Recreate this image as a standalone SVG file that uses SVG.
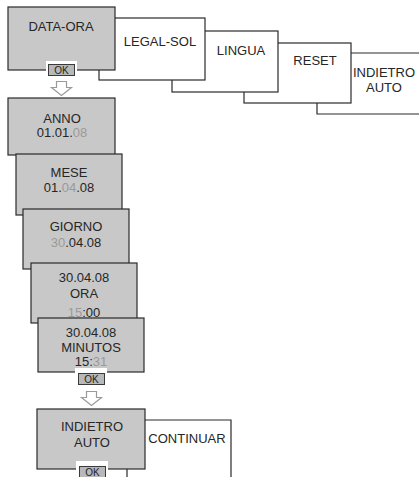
<svg xmlns="http://www.w3.org/2000/svg" width="419" height="477" viewBox="0 0 419 477">
<style>
.bg{fill:#ffffff}
.w{fill:#ffffff;stroke:#2a2a2a;stroke-width:1.2}
.g{fill:#c8c8c8;stroke:#2a2a2a;stroke-width:1.2}
.t{font-family:"Liberation Sans",Arial,sans-serif;font-size:13px;fill:#262626;text-anchor:middle}
.h{fill:#9a9a9a}
.okw{fill:#ffffff}
.ok{fill:#b8b8b8;stroke:#3a3a3a;stroke-width:1}
.okt{font-family:"Liberation Sans",Arial,sans-serif;font-size:10px;fill:#222;text-anchor:middle}
.arr{fill:#ffffff;stroke:#9a9a9a;stroke-width:1.2;stroke-linejoin:miter}
</style>
<rect class="bg" x="0" y="0" width="419" height="477"/>
<g id="menu-indietro-auto">
<path class="w" d="M419,53 H317 V114 H419"/>
<text class="t" x="384" y="77">INDIETRO</text>
<text class="t" x="384" y="92">AUTO</text>
</g>
<g id="menu-reset">
<rect class="w" x="244" y="43" width="107" height="60"/>
<text class="t" x="315" y="65">RESET</text>
</g>
<g id="menu-lingua">
<rect class="w" x="172" y="31" width="106" height="61"/>
<text class="t" x="241" y="55">LINGUA</text>
</g>
<g id="menu-legal-sol">
<rect class="w" x="99" y="18" width="106" height="62"/>
<text class="t" x="160" y="46">LEGAL-SOL</text>
</g>
<g id="data-ora">
<rect class="g" x="8" y="7" width="107" height="63"/>
<text class="t" x="61" y="31">DATA-ORA</text>
<rect class="okw" x="46" y="61" width="31" height="17"/>
<rect class="ok" x="48.5" y="64.5" width="26" height="11"/>
<text class="okt" x="61.5" y="73.8">OK</text>
</g>
<g id="connectors">
<path class="arr" d="M56.5,81.5 H66.5 V87.5 H71.5 L61.5,95.5 L51.5,87.5 H56.5 Z"/>
<path class="arr" d="M86.5,391.5 H96.5 V397.5 H101.5 L91.5,405.5 L81.5,397.5 H86.5 Z"/>
</g>
<g id="anno">
<rect class="g" x="8" y="98" width="107" height="57"/>
<text class="t" x="62" y="123">ANNO</text>
<text class="t" x="62" y="137">01.01.<tspan class="h">08</tspan></text>
</g>
<g id="mese">
<rect class="g" x="16" y="154" width="106" height="61"/>
<text class="t" x="69" y="177">MESE</text>
<text class="t" x="69" y="192">01.<tspan class="h">04</tspan>.08</text>
</g>
<g id="giorno">
<rect class="g" x="23" y="209" width="106" height="60"/>
<text class="t" x="76" y="231">GIORNO</text>
<text class="t" x="76" y="247"><tspan class="h">30</tspan>.04.08</text>
</g>
<g id="ora">
<rect class="g" x="31" y="263" width="106" height="60"/>
<text class="t" x="84" y="282">30.04.08</text>
<text class="t" x="84" y="298">ORA</text>
<text class="t" x="84" y="317"><tspan class="h">15</tspan>:00</text>
</g>
<g id="minutos">
<rect class="g" x="38" y="318" width="106" height="54"/>
<text class="t" x="91" y="337">30.04.08</text>
<text class="t" x="91" y="352">MINUTOS</text>
<text class="t" x="91" y="366">15:<tspan class="h">31</tspan></text>
<rect class="okw" x="75" y="368" width="32" height="19"/>
<rect class="ok" x="78.5" y="373.5" width="26" height="11"/>
<text class="okt" x="91.5" y="382.8">OK</text>
</g>
<g id="continuar">
<path class="w" d="M127,477 V420 H231 V477"/>
<text class="t" x="187" y="443">CONTINUAR</text>
</g>
<g id="indietro-auto">
<rect class="g" x="37" y="409" width="108" height="60"/>
<text class="t" x="92" y="431">INDIETRO</text>
<text class="t" x="92" y="447">AUTO</text>
<rect class="okw" x="76" y="461" width="32" height="16"/>
<rect class="ok" x="79.5" y="466.5" width="26" height="11"/>
<text class="okt" x="92.5" y="475.8">OK</text>
</g>
</svg>
